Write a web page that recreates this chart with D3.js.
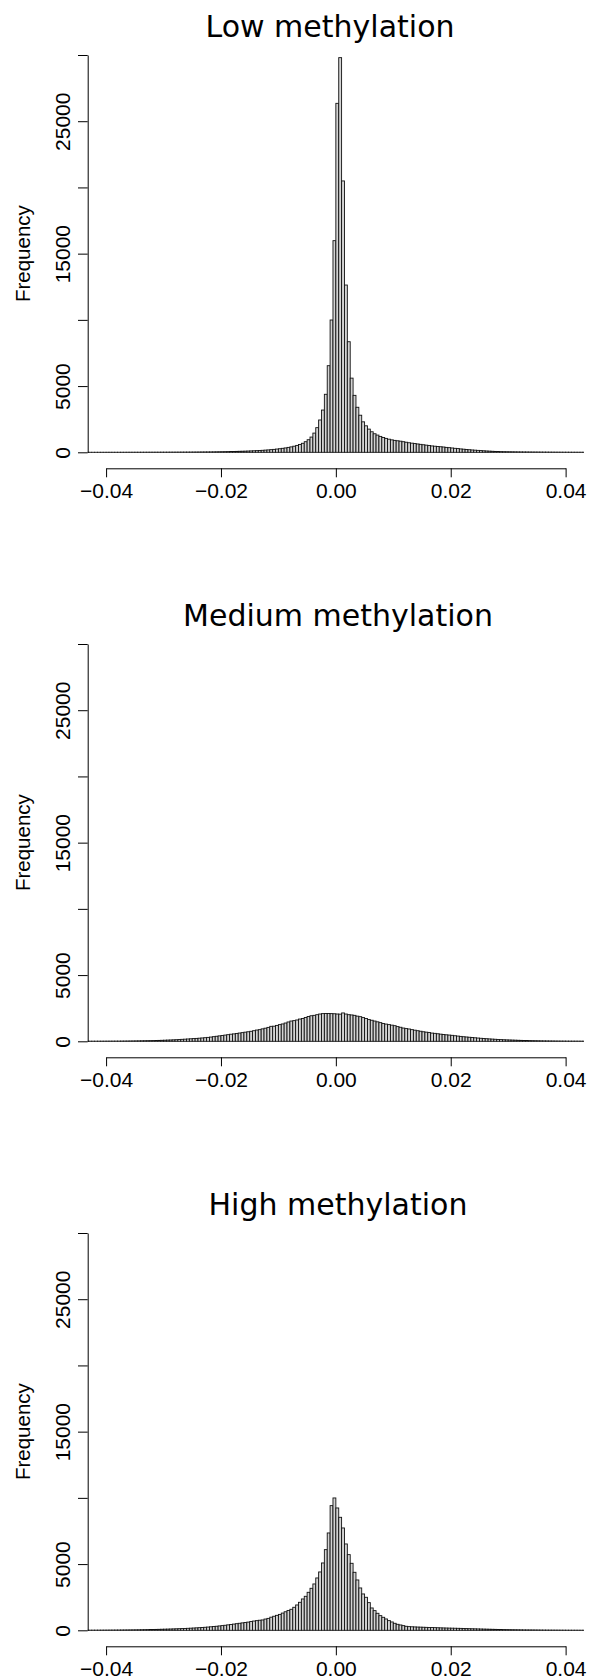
<!DOCTYPE html>
<html>
<head>
<meta charset="utf-8">
<script src="https://cdn.jsdelivr.net/npm/d3@7"></script>
<style>
  body { margin: 0; background: #fff; }
</style>
</head>
<body>
<div id="chart"></div>
<script>
// panel titles
const titles = ['Low methylation', 'Medium methylation', 'High methylation'];

// histogram bins: 174 bins of width 0.0005 starting at -0.0435
const binStart = -0.0435;
const binWidth = 0.0005;

const lowCounts = [
    1, 1, 1, 2, 2, 2, 2, 3, 3, 3,
    3, 4, 4, 4, 5, 5, 5, 6, 6, 7,
    7, 8, 8, 8, 9, 9, 10, 10, 11, 12,
    12, 13, 14, 15, 16, 17, 18, 20, 21, 23,
    25, 27, 29, 31, 34, 37, 41, 45, 49, 53,
    57, 62, 68, 75, 80, 86, 95, 105, 115, 125,
    137, 150, 165, 180, 200, 220, 245, 270, 300, 330,
    370, 410, 460, 520, 590, 680, 800, 950, 1150, 1450,
    1860, 2440, 3190, 4380, 6540, 9990, 15980,
    26350, 29800, 20490, 12630, 8350, 5600, 4300, 3400, 2800, 2300,
    2000, 1750, 1550, 1400, 1300, 1200, 1120, 1050, 990, 940,
    900, 870, 840, 800, 760, 720, 690, 660, 630, 600,
    570, 540, 510, 480, 460, 440, 420, 400, 370, 350,
    325, 300, 280, 255, 235, 215, 195, 175, 160, 145,
    130, 115, 100, 88, 76, 66, 58, 52, 47, 43,
    40, 37, 34, 31, 29, 27, 25, 23, 21, 20,
    19, 17, 16, 15, 13, 12, 11, 10, 9, 8,
    8, 7, 6, 6, 5, 5, 4
];

const mediumCounts = [
    8, 8, 9, 9, 10, 10, 11, 12, 13, 14,
    15, 16, 18, 20, 22, 25, 28, 32, 35, 39,
    43, 47, 51, 56, 62, 68, 75, 83, 92, 100,
    110, 120, 132, 148, 160, 175, 190, 205, 218, 235,
    252, 272, 295, 320, 350, 380, 410, 440, 470, 500,
    535, 560, 590, 625, 655, 690, 720, 755, 800, 850,
    880, 940, 990, 1050, 1130, 1140, 1200, 1260, 1310, 1380,
    1460, 1530, 1560, 1610, 1680, 1720, 1800, 1870, 1930, 1960,
    2010, 2060, 2090, 2100, 2100, 2090, 2080,
    2060, 2050, 2140, 2060, 2010, 1990, 1960, 1900, 1860, 1790,
    1720, 1640, 1590, 1530, 1470, 1410, 1340, 1300, 1260, 1220,
    1180, 1110, 1060, 1000, 960, 930, 880, 840, 800, 760,
    720, 690, 660, 620, 600, 570, 540, 510, 490, 470,
    450, 420, 395, 370, 345, 325, 305, 285, 265, 245,
    228, 212, 196, 180, 166, 153, 140, 128, 118, 108,
    100, 92, 84, 76, 70, 64, 58, 53, 48, 44,
    40, 36, 33, 30, 27, 25, 22, 20, 18, 17,
    15, 14, 13, 12, 11, 10, 9
];

const highCounts = [
    8, 9, 10, 11, 12, 13, 14, 15, 17, 18,
    20, 22, 24, 26, 28, 31, 34, 37, 40, 44,
    48, 52, 57, 62, 67, 73, 79, 85, 91, 98,
    106, 114, 122, 130, 140, 150, 160, 172, 185, 198,
    212, 228, 245, 265, 285, 305, 330, 355, 380, 410,
    440, 470, 500, 530, 560, 590, 620, 660, 700, 730,
    760, 780, 850, 900, 990, 1060, 1130, 1200, 1300, 1400,
    1500, 1586, 1737, 1913, 2114, 2366, 2567, 2869, 3171, 3499,
    3952, 4405, 5084, 6091, 7350, 9414, 9993,
    9237, 8532, 7727, 6519, 5714, 5059, 4380, 3801, 3197, 2744,
    2492, 2089, 1686, 1485, 1284, 1107, 982, 856, 730, 629,
    529, 453, 403, 352, 302, 277, 265, 255, 245, 238,
    230, 222, 215, 207, 200, 192, 185, 178, 171, 165,
    160, 155, 150, 145, 138, 130, 123, 116, 110, 104,
    98, 92, 86, 80, 75, 70, 65, 60, 56, 52,
    48, 44, 41, 38, 35, 32, 30, 28, 26, 24,
    22, 20, 18, 17, 15, 14, 13, 12, 11, 10,
    9, 8, 7, 7, 6, 5, 5
];

// axis ticks and labels
const xTicks = [-0.04, -0.02, 0, 0.02, 0.04];
const yTicks = [0, 5000, 10000, 15000, 20000, 25000, 30000];
const yLabels = [0, 5000, 15000, 25000];

const width = 590;
const height = 1680;
const panelStep = 589;
const plotHeight = 397.3;
const titleX = [330, 338, 338];
const labelFont = '"Liberation Sans", Arial, Helvetica, sans-serif';
const titleFont = '"DejaVu Sans", Verdana, sans-serif';

const svg = d3.select('#chart')
    .append('svg')
    .attr('width', width)
    .attr('height', height)
    .style('display', 'block');

// shared x scale (plot region is the tick range padded by 4%)
const x = d3.scaleLinear()
    .domain([-0.0432, 0.0432])
    .range([87.7, 584]);

const xAxisScale = x.copy()
    .domain([-0.04, 0.04])
    .range([x(-0.04), x(0.04)]);

[lowCounts, mediumCounts, highCounts].forEach((counts, i) => {
    const y0 = 452.3 + panelStep * i;
    const y = d3.scaleLinear()
        .domain([0, 30000])
        .range([y0, y0 - plotHeight]);

    const bins = counts.map((c, j) => ({
        lo: binStart + j * binWidth,
        hi: binStart + (j + 1) * binWidth,
        count: c
    }));

    const g = svg.append('g');

    // clip bars to plot region
    const clipId = 'clip' + i;
    svg.append('defs')
        .append('clipPath')
        .attr('id', clipId)
        .append('rect')
        .attr('x', x.range()[0])
        .attr('y', y(30000) - 10)
        .attr('width', x.range()[1] - x.range()[0])
        .attr('height', plotHeight + 12);

    g.append('g')
        .attr('clip-path', `url(#${clipId})`)
        .selectAll('rect')
        .data(bins)
        .join('rect')
        .attr('x', d => x(d.lo))
        .attr('y', d => y(d.count))
        .attr('width', d => x(d.hi) - x(d.lo))
        .attr('height', d => y(0) - y(d.count))
        .attr('fill', '#d3d3d3')
        .attr('stroke', '#111')
        .attr('stroke-width', 0.9);

    // y axis
    const yAxis = g.append('g')
        .attr('transform', `translate(${x.range()[0]},0)`)
        .call(d3.axisLeft(y)
            .tickValues(yTicks)
            .tickSize(9.7)
            .tickSizeOuter(0)
            .tickFormat(d => yLabels.includes(d) ? d : ''));

    yAxis.selectAll('path, line').attr('stroke', '#000').attr('stroke-width', 1);
    yAxis.selectAll('text')
        .attr('transform', 'rotate(-90)')
        .attr('x', 0)
        .attr('y', -17.7)
        .attr('dy', null)
        .attr('text-anchor', 'middle')
        .attr('fill', '#000')
        .style('font-family', labelFont)
        .style('font-size', '21px');

    // x axis
    const xAxis = g.append('g')
        .attr('transform', `translate(0,${y0 + 16})`)
        .call(d3.axisBottom(xAxisScale)
            .tickValues(xTicks)
            .tickSize(9)
            .tickSizeOuter(0)
            .tickFormat(d3.format('.2f')));

    xAxis.selectAll('path, line').attr('stroke', '#000').attr('stroke-width', 1);
    xAxis.selectAll('text')
        .attr('y', 29.5)
        .attr('dy', null)
        .attr('fill', '#000')
        .style('font-family', labelFont)
        .style('font-size', '21px');

    // title
    g.append('text')
        .attr('x', titleX[i])
        .attr('y', y(30000) - 18)
        .attr('text-anchor', 'middle')
        .style('font-family', titleFont)
        .style('font-size', '30px')
        .text(titles[i]);

    // y label
    g.append('text')
        .attr('transform', `translate(30,${(y(0) + y(30000)) / 2}) rotate(-90)`)
        .attr('text-anchor', 'middle')
        .style('font-family', labelFont)
        .style('font-size', '20.5px')
        .text('Frequency');
});
</script>
</body>
</html>
